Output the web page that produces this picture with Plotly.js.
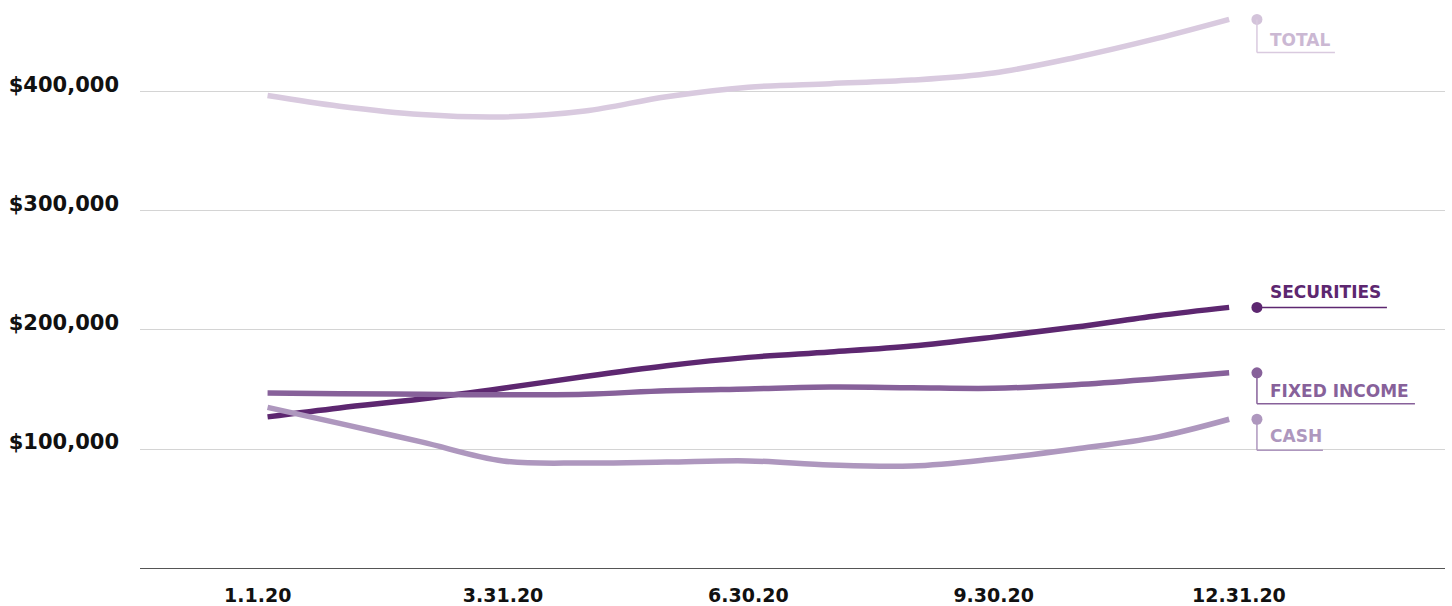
<!DOCTYPE html>
<html><head><meta charset="utf-8">
<script src="https://cdn.plot.ly/plotly-3.0.1.min.js"></script>
<style>html,body{margin:0;padding:0;background:#fff;} #chart{width:1452px;height:606px;}</style>
</head><body><div id="chart"></div>
<script>
// ---- data ----
const months = [0.12, 1, 2, 3, 4, 5, 6, 7, 8, 9, 10, 11, 11.88];
const total = [397000, 388000, 381000, 379000, 384000, 396000, 404000, 407000, 410000, 416000, 429000, 445000, 461000];
const securities = [127000, 134500, 142000, 151000, 161000, 170000, 177000, 181500, 186500, 194000, 202500, 212000, 219000];
const fixedIncome = [147000, 146500, 146000, 145500, 146000, 149000, 150500, 152000, 151500, 151000, 154000, 159000, 164000];
const cash = [135000, 121500, 106000, 90000, 88200, 89000, 90000, 86500, 85700, 91600, 100000, 110000, 125000];
const seriesNames = ['TOTAL', 'SECURITIES', 'FIXED INCOME', 'CASH'];
const xTickVals = [0, 3, 6, 9, 12];
const xTickText = ['1.1.20', '3.31.20', '6.30.20', '9.30.20', '12.31.20'];
const yTickVals = [100000, 200000, 300000, 400000];
const yTickText = ['$100,000', '$200,000', '$300,000', '$400,000'];

// ---- styles ----
const FONT = 'DejaVu Sans, sans-serif';
const lineColors = ['#d9cadf', '#5d2770', '#87619a', '#ae97be'];
const labelColors = ['#cbb8d3', '#5d2770', '#87619a', '#ae97be'];
const labelX = 12.22;
const drops = [33, 0, 31, 31];        // px the leader drops below the dot
const labelLift = [12, 15, 13, 14];   // px the label sits above the underline
const underline = [78, 130, 158, 66]; // px length of the underline
const allSeries = [total, securities, fixedIncome, cash];

const traces = allSeries.map((ys, i) => ({
  type: 'scatter', mode: 'lines', x: months, y: ys, name: seriesNames[i],
  line: {color: lineColors[i], width: 5.5, shape: 'spline', smoothing: 1},
  hoverinfo: 'skip'
}));
// end dots
traces.push({
  type: 'scatter', mode: 'markers',
  x: allSeries.map(() => labelX),
  y: allSeries.map(s => s[s.length - 1]),
  marker: {color: lineColors.map((c, i) => i === 0 ? '#d3c3da' : c), size: 11},
  cliponaxis: false, hoverinfo: 'skip'
});

const shapes = [];
const annotations = [];
allSeries.forEach((s, i) => {
  const v = s[s.length - 1];
  const base = {type: 'line', xref: 'x', yref: 'y', xsizemode: 'pixel', ysizemode: 'pixel',
    xanchor: labelX, yanchor: v, line: {color: lineColors[i], width: 1.5}, layer: 'above'};
  if (drops[i] > 0) shapes.push(Object.assign({}, base, {x0: 0, x1: 0, y0: 0, y1: -drops[i]}));
  shapes.push(Object.assign({}, base, {x0: 0, x1: underline[i], y0: -drops[i], y1: -drops[i]}));
  annotations.push({
    x: labelX, y: v, xref: 'x', yref: 'y', text: seriesNames[i], showarrow: false,
    xanchor: 'left', yanchor: 'middle', xshift: 11, yshift: labelLift[i] - drops[i],
    font: {family: FONT, size: 17, weight: 700, color: labelColors[i]}
  });
});

const layout = {
  width: 1452, height: 606,
  margin: {l: 140, r: 7, t: 0, b: 38},
  paper_bgcolor: '#fff', plot_bgcolor: '#fff',
  showlegend: false,
  xaxis: {
    range: [-1.44, 14.52], tickmode: 'array', tickvals: xTickVals, ticktext: xTickText,
    showgrid: false, zeroline: false, showline: true, linecolor: '#555', linewidth: 1,
    ticks: '', ticklabelstandoff: 10,
    tickfont: {family: FONT, size: 19, weight: 700, color: '#111'}, fixedrange: true
  },
  yaxis: {
    range: [0, 477300], tickmode: 'array', tickvals: yTickVals, ticktext: yTickText,
    showgrid: true, gridcolor: '#d4d4d4', gridwidth: 1, zeroline: false, showline: false,
    ticks: '', ticklabelstandoff: 20, ticklabelshift: -7,
    tickfont: {family: FONT, size: 21, weight: 700, color: '#111'}, fixedrange: true
  },
  shapes: shapes,
  annotations: annotations
};

Plotly.newPlot('chart', traces, layout, {displayModeBar: false, staticPlot: true});
</script>
</body></html>
